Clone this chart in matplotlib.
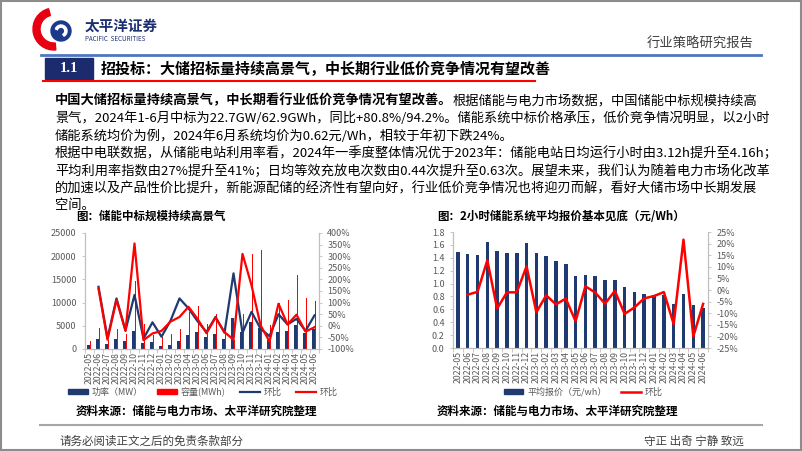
import matplotlib.pyplot as plt
from matplotlib.patches import Rectangle, Circle, Wedge, Patch
from matplotlib.lines import Line2D
from matplotlib.ticker import FuncFormatter, MultipleLocator
import numpy as np

plt.rcParams['font.family'] = ['Noto Sans CJK SC', 'DejaVu Sans']
plt.rcParams['axes.unicode_minus'] = False

W, H = 802, 451

# 月份（两张图共用）
months = ['2022-05', '2022-06', '2022-07', '2022-08', '2022-09', '2022-10', '2022-11',
          '2022-12', '2023-01', '2023-02', '2023-03', '2023-04', '2023-05', '2023-06',
          '2023-07', '2023-08', '2023-09', '2023-10', '2023-11', '2023-12', '2024-01',
          '2024-02', '2024-03', '2024-04', '2024-05', '2024-06']

# 左图：储能中标规模
power_mw = [850, 2200, 1000, 2100, 1650, 3900, 1250, 1450, 700, 850, 1800, 3100, 3750,
            2500, 3300, 2100, 6750, 3700, 5750, 4450, 2000, 3750, 3950, 5200, 3400, 4300]
capacity_mwh = [1750, 4450, 1900, 4300, 3250, 14700, 5300, 3000, 2500, 3150, 4300, 7900, 9300,
                5400, 7500, 3500, 1900, 7500, 20500, 21300, 5100, 9900, 10600, 16000, 11000, 10300]
power_mom = [np.nan, 168, -53, 118, -20, 133, -55, 15, -47, 22, 118, 75, 20,
             -27, 38, -30, 226, -30, 60, -12, -45, 50, 6, 30, -22, 45]
capacity_mom = [np.nan, 160, -60, 112, -22, 355, -62, -33, -22, 18, 38, 82, 30,
                -32, 35, -27, -60, 310, 175, 3, -68, 95, 6, 48, -25, -6]

# 右图：2小时储能系统平均报价
avg_price = [1.49, 1.46, 1.45, 1.64, 1.50, 1.48, 1.47, 1.63, 1.47, 1.43, 1.35, 1.30, 1.11,
             1.14, 1.12, 1.05, 1.05, 0.94, 0.87, 0.84, 0.82, 0.82, 0.69, 0.84, 0.66, 0.62]
price_mom = [np.nan, -2.0, -0.8, 12.8, -8.0, -1.0, -1.0, 10.2, -9.6, -2.3, -6.2, -3.7, -13.5,
             1.6, -1.1, -5.9, -0.4, -10.3, -7.5, -3.6, -2.6, -0.9, -14.7, 21.7, -20.0, -6.0]

NAVY = '#1f3a70'
RED = '#ff0000'
GRAY = '#595959'
AXC = '#bfbfbf'

fig = plt.figure(figsize=(W / 100, H / 100), dpi=100)
bg = fig.add_axes([0, 0, 1, 1])
bg.set_xlim(0, W)
bg.set_ylim(H, 0)
bg.axis('off')


def px_box(x0, y0, x1, y1):
    return [x0 / W, 1 - y1 / H, (x1 - x0) / W, (y1 - y0) / H]


# 外框
bg.add_patch(Rectangle((1, 1), W - 2, H - 2, fill=False, ec='#8c8c8c', lw=1.5))

# 页眉 logo
bg.add_patch(Wedge((54, 29), 21, 85, 255, width=7, color='#e60012'))
bg.add_patch(Circle((61, 31), 10, color='#1d3a8a'))
bg.add_patch(Wedge((61, 31), 6, 200, 420, width=2.2, color='white'))
bg.text(85, 26, '太平洋证券', fontsize=10.5, fontweight='bold', color='#1d2f73', va='center')
bg.text(85, 39, 'PACIFIC  SECURITIES', fontsize=4.5, color='#1d2f73', va='center')
bg.text(754, 44, '行业策略研究报告', fontsize=9.6, color='#404040', va='center', ha='right')
bg.plot([41, 761], [55, 55], color='#4f77be', lw=2)

# 小节标题
bg.add_patch(Rectangle((45, 58), 48, 21, color='#1c2a6e'))
bg.text(69, 68.5, '1.1', fontsize=10.5, fontweight='bold', color='white',
        ha='center', va='center', family='Liberation Serif')
bg.text(101, 69, '招投标：大储招标量持续高景气，中长期行业低价竞争情况有望改善',
        fontsize=10.8, fontweight='bold', va='center')
bg.plot([43, 535], [80.5, 80.5], color=RED, lw=1.5)

# 正文
fs = 9.5
t1 = bg.text(55, 100, '中国大储招标量持续高景气，中长期看行业低价竞争情况有望改善。',
             fontsize=fs, fontweight='bold', va='center')
bg.annotate('根据储能与电力市场数据，中国储能中标规模持续高', xy=(1, 0), xycoords=t1,
            fontsize=fs, va='bottom', ha='left')
para = [
    (118, '景气，2024年1-6月中标为22.7GW/62.9GWh，同比+80.8%/94.2%。储能系统中标价格承压，低价竞争情况明显，以2小时'),
    (136, '储能系统均价为例，2024年6月系统均价为0.62元/Wh，相较于年初下跌24%。'),
    (153, '根据中电联数据，从储能电站利用率看，2024年一季度整体情况优于2023年：储能电站日均运行小时由3.12h提升至4.16h；'),
    (171, '平均利用率指数由27%提升至41%；日均等效充放电次数由0.44次提升至0.63次。展望未来，我们认为随着电力市场化改革'),
    (189, '的加速以及产品性价比提升，新能源配储的经济性有望向好，行业低价竞争情况也将迎刃而解，看好大储市场中长期发展'),
    (205, '空间。'),
]
for y, s in para:
    bg.text(55, y, s, fontsize=fs, va='center')

bg.text(76, 216, '图：储能中标规模持续高景气', fontsize=8.3, fontweight='bold', va='center')
bg.text(437, 216, '图：2小时储能系统平均报价基本见底（元/Wh）', fontsize=8.3, fontweight='bold', va='center')

x = np.arange(len(months))


def style(ax, axr):
    for a in (ax, axr):
        for s in a.spines.values():
            s.set_color(AXC)
            s.set_linewidth(0.8)
        a.spines['top'].set_visible(False)
    ax.tick_params(axis='y', color=AXC, labelcolor=GRAY, labelsize=6.5, length=2.5, width=0.6)
    axr.tick_params(axis='y', color=AXC, labelcolor=GRAY, labelsize=6.5, length=2.5, width=0.6)
    ax.set_xlim(-0.5, len(months) - 0.5)
    ax.set_xticks(x)
    ax.set_xticklabels(months, rotation=90)
    ax.tick_params(axis='x', which='major', length=0, labelcolor=GRAY, labelsize=6.3, pad=2)
    ax.set_xticks(np.arange(-0.5, len(months)), minor=True)
    ax.tick_params(axis='x', which='minor', length=3, color=AXC, width=0.6)


# 左图
ax1 = fig.add_axes(px_box(85, 233, 319, 349))
ax1.bar(x - 0.12, power_mw, width=0.26, color=NAVY)
ax1.bar(x + 0.12, capacity_mwh, width=0.2, color=RED)
ax1.set_ylim(0, 25000)
ax1.yaxis.set_major_locator(MultipleLocator(5000))
ax1b = ax1.twinx()
ax1b.plot(x, power_mom, color=NAVY, lw=1.6)
ax1b.plot(x, capacity_mom, color=RED, lw=1.6)
ax1b.set_ylim(-100, 400)
ax1b.yaxis.set_major_locator(MultipleLocator(50))
ax1b.yaxis.set_major_formatter(FuncFormatter(lambda v, p: f'{v:.0f}%'))
style(ax1, ax1b)

# 右图
ax2 = fig.add_axes(px_box(453, 232, 708, 348))
ax2.bar(x, avg_price, width=0.36, color=NAVY)
ax2.set_ylim(0, 1.8)
ax2.yaxis.set_major_locator(MultipleLocator(0.2))
ax2.yaxis.set_major_formatter(FuncFormatter(lambda v, p: f'{v:.1f}'))
ax2b = ax2.twinx()
ax2b.plot(x, price_mom, color=RED, lw=1.8)
ax2b.set_ylim(-25, 25)
ax2b.yaxis.set_major_locator(MultipleLocator(5))
ax2b.yaxis.set_major_formatter(FuncFormatter(lambda v, p: f'{v:.0f}%'))
style(ax2, ax2b)

# 图例
leg_kw = dict(loc='center', frameon=False, fontsize=6.5, labelcolor=GRAY,
              handlelength=2.2, handleheight=0.45, columnspacing=1.6, handletextpad=0.4)
fig.legend([Patch(color=NAVY), Patch(color=RED),
            Line2D([], [], color=NAVY, lw=1.6), Line2D([], [], color=RED, lw=1.6)],
           ['功率（MW）', '容量(MWh)', '环比', '环比'],
           bbox_to_anchor=(203 / W, 1 - 392 / H), ncol=4, **leg_kw)
fig.legend([Patch(color=NAVY), Line2D([], [], color=RED, lw=1.8)],
           ['平均报价（元/wh）', '环比'],
           bbox_to_anchor=(583 / W, 1 - 392 / H), ncol=2, **leg_kw)

# 资料来源与页脚
bg.text(76, 411, '资料来源：储能与电力市场、太平洋研究院整理', fontsize=8.3, fontweight='bold', va='center')
bg.text(437, 411, '资料来源：储能与电力市场、太平洋研究院整理', fontsize=8.3, fontweight='bold', va='center')
bg.plot([40, 762], [425, 425], color='#a6a6a6', lw=1.5)
bg.text(59, 441, '请务必阅读正文之后的免责条款部分', fontsize=8.3, color='#404040', va='center')
bg.text(744, 441, '守正 出奇 宁静 致远', fontsize=8.3, color='#404040', va='center', ha='right')

fig.savefig('out.png', dpi=100)
